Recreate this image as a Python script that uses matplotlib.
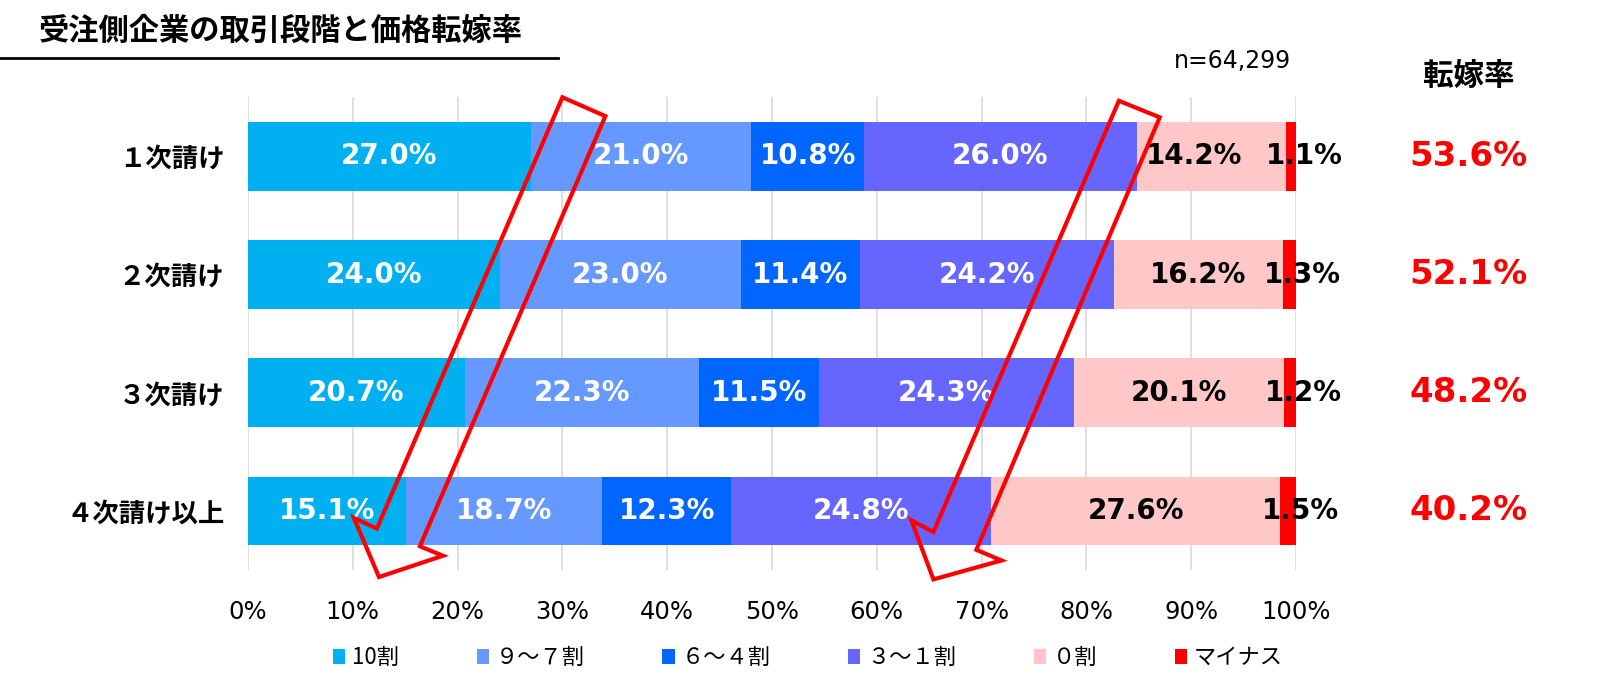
import numpy as np
import matplotlib
matplotlib.use("Agg")
import matplotlib.pyplot as plt
from matplotlib.patches import Polygon
from matplotlib.lines import Line2D
from matplotlib import transforms

plt.rcParams['font.family'] = ['DejaVu Sans', 'Noto Sans CJK JP']
JP = ['Noto Sans CJK JP', 'DejaVu Sans']

# ---- data ----
stages = ['１次請け', '２次請け', '３次請け', '４次請け以上']
series_names = ['10割', '９～７割', '６～４割', '３～１割', '０割', 'マイナス']
share_10 = [27.0, 24.0, 20.7, 15.1]
share_9_7 = [21.0, 23.0, 22.3, 18.7]
share_6_4 = [10.8, 11.4, 11.5, 12.3]
share_3_1 = [26.0, 24.2, 24.3, 24.8]
share_0 = [14.2, 16.2, 20.1, 27.6]
share_minus = [1.1, 1.3, 1.2, 1.5]
pass_rate = [53.6, 52.1, 48.2, 40.2]
n_label = 'n=64,299'
xticks = np.arange(0, 101, 10)

series = [share_10, share_9_7, share_6_4, share_3_1, share_0, share_minus]
colors = ['#00B0F0', '#6699FF', '#0066FF', '#6666FF', '#FFC7C7', '#FF0000']
text_colors = ['white', 'white', 'white', 'white', 'black', 'black']

fig = plt.figure(figsize=(16, 6.85), dpi=100)
ax = fig.add_axes([0.155, 0.168, 0.655, 0.69])

y = np.arange(len(stages))
left = np.zeros(len(stages))
handles = []
for vals, col, tcol, name in zip(series, colors, text_colors, series_names):
    vals = np.array(vals)
    b = ax.barh(y, vals, left=left, height=0.58, color=col, label=name, zorder=2)
    handles.append(b)
    for yi, (l, v) in enumerate(zip(left, vals)):
        cx = l + v / 2
        if name == 'マイナス':
            cx += 1.2
        elif name == '０割' and v < 15:
            cx -= 1.6   # nudged left so it clears the small label next to it
        ax.text(cx, yi, f'{v:.1f}%', ha='center', va='center', color=tcol,
                fontsize=20, fontweight='bold', zorder=4)
    left = left + vals

ax.set_xlim(0, 100)
ax.set_ylim(3.5, -0.5)
ax.set_xticks(xticks)
ax.set_xticklabels([f'{t}%' for t in xticks], fontsize=17.5)
ax.set_yticks(y)
ax.set_yticklabels(stages, fontsize=19, fontweight='bold', family=JP)
ax.tick_params(axis='both', length=0)
ax.tick_params(axis='y', pad=17)
ax.tick_params(axis='x', pad=22)
ax.xaxis.grid(True, color='#D9D9D9', lw=1.2, zorder=0)
ax.set_axisbelow(True)
for s in ax.spines.values():
    s.set_visible(False)

# hollow red arrows (annotation shapes, in data coordinates)
arrow_left = [(30.0, -0.50), (34.1, -0.34), (16.4, 3.30), (18.6, 3.38),
              (12.5, 3.56), (10.1, 3.06), (12.3, 3.15)]
arrow_right = [(83.1, -0.47), (87.0, -0.33), (69.5, 3.33), (71.9, 3.42),
               (65.4, 3.58), (63.3, 3.08), (65.4, 3.18)]
for pts in (arrow_left, arrow_right):
    ax.add_patch(Polygon(pts, closed=True, fill=False, edgecolor='#FF0000',
                         lw=3, joinstyle='miter', clip_on=False, zorder=6))

# pass-through rate column
tr = transforms.blended_transform_factory(fig.transFigure, ax.transData)
for yi, r in enumerate(pass_rate):
    ax.text(0.918, yi, f'{r:.1f}%', transform=tr, ha='center', va='center',
            color='#FF0000', fontsize=24.5, fontweight='bold')
fig.text(0.918, 0.889, '転嫁率', ha='center', va='center', fontsize=22,
         fontweight='bold', family=JP)
fig.text(0.77, 0.911, n_label, ha='center', va='center', fontsize=17)

# title with underline
fig.text(0.024, 0.955, '受注側企業の取引段階と価格転嫁率', ha='left', va='center',
         fontsize=21.8, fontweight='bold', family=JP)
fig.add_artist(Line2D([0, 0.349], [0.915, 0.915], transform=fig.transFigure,
                      color='black', lw=2))

fig.legend(handles=handles, labels=series_names, loc='center', ncol=6,
           bbox_to_anchor=(0.505, 0.04), frameon=False,
           handlelength=0.55, handleheight=0.7, handletextpad=0.3,
           columnspacing=3.5, prop={'family': JP, 'size': 16})

fig.savefig('out.png', dpi=100)
